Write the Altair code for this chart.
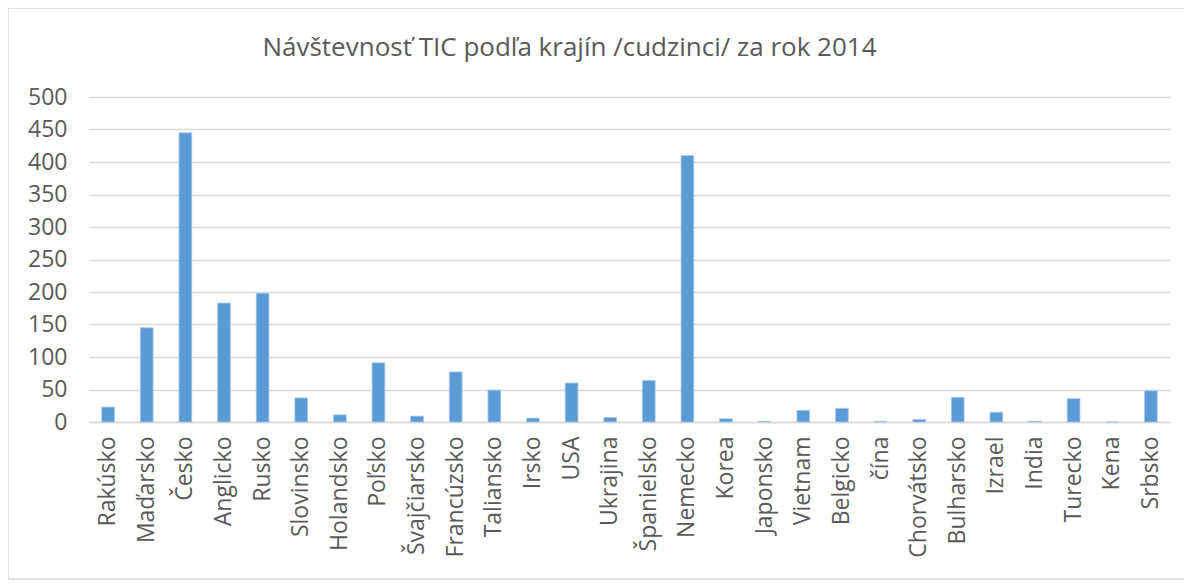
import altair as alt
import pandas as pd

countries = ["Rakúsko", "Maďarsko", "Česko", "Anglicko", "Rusko", "Slovinsko", "Holandsko",
             "Poľsko", "Švajčiarsko", "Francúzsko", "Taliansko", "Irsko", "USA", "Ukrajina",
             "Španielsko", "Nemecko", "Korea", "Japonsko", "Vietnam", "Belgicko", "čína",
             "Chorvátsko", "Bulharsko", "Izrael", "India", "Turecko", "Kena", "Srbsko"]
visitors = [23, 145, 445, 183, 198, 37, 11, 91, 9, 77, 49, 6, 60, 7,
            64, 410, 5, 1, 18, 21, 1, 4, 38, 15, 1, 36, 0, 48]
y_ticks = [0, 50, 100, 150, 200, 250, 300, 350, 400, 450, 500]
title_text = "Návštevnosť TIC podľa krajín /cudzinci/ za rok 2014"

df = pd.DataFrame({"krajina": countries, "pocet": visitors})
one = pd.DataFrame({"t": [title_text]})

W, H = 1081, 325
PL, PT, PR, PB = 81, 89, 14, 158

bars = alt.Chart(df).mark_bar(color="#5B9BD5", stroke="#a9c8ea", strokeWidth=0.8).encode(
    x=alt.X("krajina:N", sort=countries,
            scale=alt.Scale(paddingInner=0.67, paddingOuter=0.33),
            axis=alt.Axis(title=None, labelAngle=-90, labelFont="Open Sans", labelFontSize=23,
                          labelColor="#595959", labelPadding=14, ticks=False,
                          domainColor="#d9d9d9", domainWidth=1.5, labelOverlap=False)),
    y=alt.Y("pocet:Q", scale=alt.Scale(domain=[0, 500], nice=False),
            axis=alt.Axis(title=None, values=y_ticks, labelFont="Open Sans", labelFontSize=23,
                          labelColor="#595959", labelPadding=22, ticks=False, domain=False,
                          gridColor="#d9d9d9", gridWidth=1.5)),
)

frame = alt.Chart(one).mark_rect(fill=None, stroke="#d9d9d9", strokeWidth=1.5, clip=False).encode(
    x=alt.value(-PL), x2=alt.value(W + PR + 95),
    y=alt.value(-PT), y2=alt.value(H + PB - 1),
)

title = alt.Chart(one).mark_text(font="Open Sans", fontSize=26, fontWeight="normal",
                                 color="#595959", align="center", baseline="middle",
                                 clip=False).encode(
    x=alt.value(W / 2 - 60), y=alt.value(-49), text="t:N",
)

chart = alt.layer(frame, bars, title).properties(
    width=W, height=H,
    autosize=alt.AutoSizeParams(type="none"),
    padding={"left": PL, "top": PT, "right": PR, "bottom": PB},
).configure_view(stroke=None)

chart.save("out.html", embed_options={"renderer": "svg", "actions": False})
